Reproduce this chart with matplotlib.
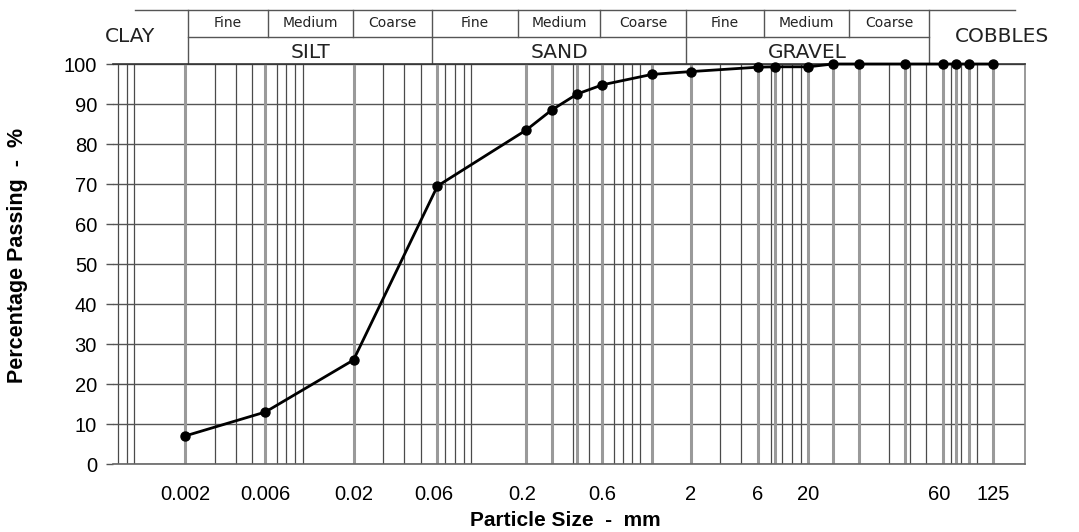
import numpy as np
import matplotlib
matplotlib.use("Agg")
import matplotlib.pyplot as plt
from matplotlib.ticker import LogLocator, NullFormatter

# sieve sizes (mm) and percentage passing
sizes = [0.002, 0.006, 0.02, 0.063, 0.212, 0.3, 0.425, 0.6, 1.18, 2,
         5, 6.3, 10, 14, 20, 37.5, 63, 75, 90, 125]
passing = [7.0, 13.0, 26.0, 69.5, 83.5, 88.5, 92.5, 94.8, 97.4, 98.1,
           99.2, 99.3, 99.3, 100, 100, 100, 100, 100, 100, 100]

# x tick labels as they sit on the reference chart
xtick_pos = [0.002, 0.006, 0.02, 0.06, 0.2, 0.6, 2, 5, 10, 60, 125]
xtick_lbl = ["0.002", "0.006", "0.02", "0.06", "0.2", "0.6", "2", "6", "20", "60", "125"]

# header classification bands
main_bands = ["CLAY", "SILT", "SAND", "GRAVEL", "COBBLES"]
sub_bands = ["Fine", "Medium", "Coarse"]

W, H = 1079, 532
fig = plt.figure(figsize=(W / 100, H / 100), dpi=100)
ax = fig.add_axes([113 / W, (H - 464) / H, (1025 - 113) / W, 400 / H])

ax.set_xscale("log")
ax.set_xlim(0.000748, 193)
ax.set_ylim(0, 100)
ax.set_axisbelow(True)

# log grid (thin dark lines)
ax.xaxis.set_minor_locator(LogLocator(base=10, subs=np.arange(1, 10), numticks=100))
ax.xaxis.set_minor_formatter(NullFormatter())
ax.grid(which="minor", axis="x", color="#4a4a4a", lw=0.9)
ax.grid(which="major", axis="x", visible=False)
ax.grid(which="major", axis="y", color="#555555", lw=1.0)

# sieve lines (thick grey)
for s in sizes:
    ax.axvline(s, color="#9a9a9a", lw=2.2, zorder=1.5)

ax.plot(sizes, passing, color="black", lw=2, marker="o", ms=6.5, zorder=4, clip_on=False)

ax.set_xticks(xtick_pos)
ax.set_xticklabels(xtick_lbl)
ax.set_yticks(np.arange(0, 101, 10))
ax.tick_params(axis="x", which="both", length=0, pad=15, labelsize=14.5)
ax.tick_params(axis="y", length=5, color="#555555", width=1, pad=6.5, labelsize=14.5)
for lbl in ax.get_xticklabels() + ax.get_yticklabels():
    lbl.set_fontfamily("Liberation Sans")

ax.spines["left"].set_visible(False)
ax.spines["top"].set_color("#333333")
ax.spines["right"].set_color("#888888")
ax.spines["bottom"].set_color("#666666")
for sp in ax.spines.values():
    sp.set_linewidth(1.2)

fig.text(565 / W, 1 - 521 / H, "Particle Size  -  mm", ha="center", va="center",
         fontsize=15, fontweight="bold", family="Liberation Sans")
fig.text(18 / W, 1 - 255 / H, "Percentage Passing  -  %", ha="center", va="center",
         rotation=90, fontsize=15.5, fontweight="bold", family="Liberation Sans")

# header table drawn in pixel coordinates
hx = fig.add_axes([0, 0, 1, 1], zorder=-1)
hx.set_xlim(0, W)
hx.set_ylim(H, 0)
hx.axis("off")
lc = "#555555"
hx.plot([135, 1015], [10, 10], color=lc, lw=1)
hx.plot([188, 929], [37, 37], color=lc, lw=1)
for xv in [188, 432, 686, 929]:
    hx.plot([xv, xv], [10, 64], color=lc, lw=1)
for xv in [268, 353, 518, 600, 764, 849]:
    hx.plot([xv, xv], [10, 37], color=lc, lw=1)

hfont = dict(family="DejaVu Sans", color="#222222", ha="center", va="center")
edges = [188, 432, 686, 929]
subs_x = [[188, 268, 353, 432], [432, 518, 600, 686], [686, 764, 849, 929]]
hx.text(130, 37, main_bands[0], fontsize=14.5, **hfont)
hx.text(1002, 37, main_bands[4], fontsize=14.5, **hfont)
for i, name in enumerate(main_bands[1:4]):
    cx = (edges[i] + edges[i + 1]) / 2
    hx.text(cx, 52, name, fontsize=14.5, **hfont)
    for j, sub in enumerate(sub_bands):
        sx = (subs_x[i][j] + subs_x[i][j + 1]) / 2
        hx.text(sx, 23, sub, fontsize=10, **hfont)

fig.savefig("out.png", dpi=100)
